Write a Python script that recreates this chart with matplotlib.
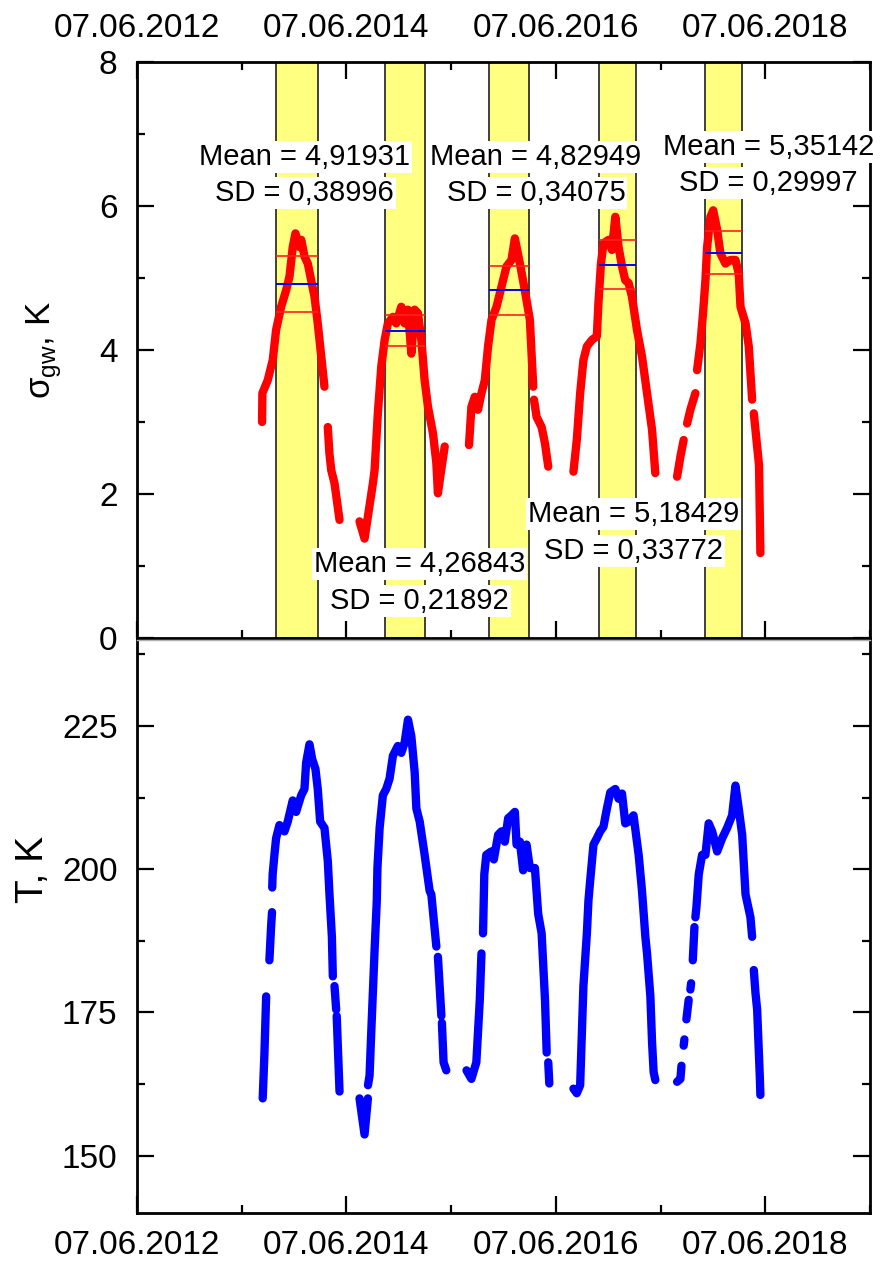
import matplotlib
matplotlib.use("Agg")
import matplotlib.pyplot as plt
import matplotlib.dates as mdates
from matplotlib.ticker import FixedLocator, MultipleLocator
import numpy as np
import pandas as pd

plt.rcParams['font.family'] = ['Liberation Sans', 'DejaVu Sans']

nan = np.nan

# sigma_gw (K), decimal year / value, nan = gap in record
sig_year = [2013.625, 2013.628, 2013.679, 2013.727, 2013.759, 2013.807, 2013.855, 2013.887, 2013.918,
            2013.944, 2013.982, 2013.999, 2014.030, 2014.062, 2014.094, 2014.126, 2014.157, 2014.190,
            2014.221, 2014.240, 2014.253, 2014.268, 2014.286, 2014.317, 2014.365, 2014.450,
            2014.556, 2014.604, 2014.636, 2014.684, 2014.700, 2014.731, 2014.764, 2014.796, 2014.827,
            2014.875, 2014.907, 2014.955, 2014.987, 2015.019, 2015.051, 2015.083, 2015.114, 2015.147,
            2015.178, 2015.210, 2015.258, 2015.290, 2015.305, 2015.338, 2015.370, 2015.480,
            2015.602, 2015.625, 2015.657, 2015.688, 2015.721, 2015.753, 2015.784, 2015.817, 2015.865,
            2015.912, 2015.960, 2016.008, 2016.040, 2016.088, 2016.135, 2016.183, 2016.215, 2016.218,
            2016.222, 2016.247, 2016.295, 2016.327, 2016.358, 2016.480,
            2016.598, 2016.630, 2016.662, 2016.693, 2016.726, 2016.774, 2016.821, 2016.836, 2016.860,
            2016.884, 2016.932, 2016.965, 2016.997, 2017.028, 2017.061, 2017.092, 2017.124, 2017.156,
            2017.204, 2017.252, 2017.300, 2017.348, 2017.379, 2017.480,
            2017.587, 2017.619, 2017.650, 2017.667, 2017.683, 2017.714, 2017.762, 2017.770, 2017.778,
            2017.810, 2017.835, 2017.858, 2017.874, 2017.906, 2017.932, 2017.970, 2018.001, 2018.049,
            2018.097, 2018.145, 2018.176, 2018.193, 2018.241, 2018.272, 2018.304, 2018.312, 2018.320,
            2018.352, 2018.370, 2018.383]
sig_val = [3.00, 3.40, 3.58, 3.86, 4.28, 4.60, 4.83, 5.02, 5.43,
           5.62, 5.43, 5.53, 5.30, 5.20, 4.97, 4.74, 4.37, 3.91,
           3.49, nan, 2.93, 2.57, 2.33, 2.15, 1.64, nan,
           1.62, 1.38, 1.69, 2.15, 2.33, 3.12, 3.77, 4.14, 4.37,
           4.46, 4.37, 4.60, 4.37, 4.56, 3.95, 4.56, 4.51, 4.14,
           3.58, 3.21, 2.84, 2.43, 2.01, 2.35, 2.66, nan,
           2.68, 3.21, 3.35, 3.17, 3.40, 3.58, 4.05, 4.42, 4.60,
           4.88, 5.16, 5.25, 5.55, 5.20, 4.83, 4.42, 3.49, nan,
           3.31, 3.07, 2.93, 2.70, 2.38, nan,
           2.31, 2.75, 3.40, 3.86, 4.05, 4.14, 4.19, 4.65, 5.20,
           5.48, 5.53, 5.39, 5.85, 5.43, 5.16, 4.97, 4.93, 4.74,
           4.28, 3.91, 3.40, 2.89, 2.29, nan,
           2.24, 2.52, 2.75, nan, 2.98, 3.17, 3.40, nan, 3.72,
           4.09, 4.51, 4.97, 5.43, 5.85, 5.94, 5.67, 5.34, 5.20,
           5.25, 5.25, 5.06, 4.60, 4.37, 4.05, 3.31, nan, 3.12,
           2.66, 2.40, 1.18]

# temperature (K)
t_year = [2013.631, 2013.647, 2013.664, 2013.668, 2013.673, 2013.684, 2013.695, 2013.711, 2013.720,
          2013.721, 2013.722, 2013.726, 2013.743, 2013.759, 2013.791, 2013.839, 2013.870, 2013.918,
          2013.950, 2013.999, 2014.030, 2014.046, 2014.078, 2014.104, 2014.135, 2014.157, 2014.180,
          2014.221, 2014.253, 2014.269, 2014.292, 2014.301, 2014.309, 2014.317, 2014.333, 2014.335,
          2014.338, 2014.365, 2014.450,
          2014.556, 2014.604, 2014.636, 2014.636, 2014.637, 2014.652, 2014.668, 2014.700, 2014.721,
          2014.727, 2014.748, 2014.779, 2014.811, 2014.843, 2014.875, 2014.922, 2014.955, 2014.987,
          2015.019, 2015.051, 2015.083, 2015.099, 2015.131, 2015.178, 2015.226, 2015.242, 2015.290,
          2015.297, 2015.305, 2015.338, 2015.340, 2015.343, 2015.359, 2015.385, 2015.480,
          2015.578, 2015.625, 2015.672, 2015.705, 2015.721, 2015.728, 2015.736, 2015.748, 2015.767,
          2015.815, 2015.839, 2015.880, 2015.912, 2015.944, 2015.976, 2016.008, 2016.040, 2016.056,
          2016.088, 2016.119, 2016.151, 2016.183, 2016.231, 2016.262, 2016.295, 2016.327, 2016.343,
          2016.350, 2016.358, 2016.368, 2016.480,
          2016.598, 2016.630, 2016.662, 2016.678, 2016.693, 2016.726, 2016.741, 2016.757, 2016.789,
          2016.821, 2016.853, 2016.884, 2016.917, 2016.949, 2016.997, 2017.028, 2017.061, 2017.092,
          2017.124, 2017.171, 2017.220, 2017.252, 2017.284, 2017.300, 2017.332, 2017.348, 2017.363,
          2017.379, 2017.480,
          2017.587, 2017.619, 2017.629, 2017.632, 2017.636, 2017.643, 2017.650, 2017.657, 2017.666,
          2017.676, 2017.698, 2017.706, 2017.714, 2017.721, 2017.729, 2017.737, 2017.753, 2017.757,
          2017.762, 2017.772, 2017.794, 2017.826, 2017.858, 2017.889, 2017.922, 2017.970, 2018.018,
          2018.065, 2018.113, 2018.145, 2018.176, 2018.209, 2018.241, 2018.288, 2018.304, 2018.312,
          2018.320, 2018.336, 2018.352, 2018.377, 2018.383]
t_val = [160.0, 167.5, 177.8, nan, 180.7, nan, 184.1, 189.9, 192.5,
         nan, 196.8, 199.1, 202.5, 205.4, 207.7, 206.6, 208.3, 212.0,
         210.0, 212.9, 214.0, 218.6, 221.8, 219.2, 217.5, 214.0, 208.3,
         207.2, 201.4, 195.6, 188.2, 181.3, nan, 179.6, 175.5, nan,
         174.4, 161.2, nan,
         160.0, 153.7, 160.0, nan, 162.3, 164.0, 171.5, 185.9, 194.5,
         200.2, 207.2, 212.9, 214.0, 215.8, 219.8, 221.5, 220.3, 222.1,
         226.1, 223.2, 216.9, 210.6, 208.3, 202.5, 196.2, 195.6, 186.5,
         nan, 184.7, 174.4, nan, 173.2, 166.3, 164.9, nan,
         164.9, 163.4, 166.3, 177.2, 185.3, nan, 188.8, 199.1, 202.5,
         203.1, 201.7, 206.0, 206.6, 204.8, 208.9, 209.4, 210.0, 204.3,
         204.8, 199.8, 204.3, 200.2, 200.2, 192.2, 188.8, 177.2, 168.0,
         nan, 166.3, 162.6, nan,
         161.7, 160.9, 162.3, 171.5, 179.6, 188.8, 194.5, 197.9, 204.3,
         205.4, 206.6, 207.4, 210.6, 213.4, 214.0, 212.3, 213.2, 208.0,
         208.3, 209.4, 202.5, 196.2, 188.2, 185.3, 177.8, 169.8, 164.6,
         163.2, nan,
         162.9, 163.4, 165.7, nan, 167.5, nan, 169.2, 170.3, nan,
         173.8, 177.2, nan, 179.0, 180.1, nan, 184.1, 189.9, nan,
         191.6, 193.4, 199.1, 202.5, 202.5, 208.0, 206.6, 203.1, 205.4,
         207.2, 209.4, 214.6, 210.6, 206.0, 195.6, 191.6, 188.2, nan,
         182.4, 178.4, 175.5, 164.0, 160.6]

# winter windows and their statistics
band_start = ["2013-10-05", "2014-10-21", "2015-10-19", "2016-11-03", "2017-11-09"]
band_end = ["2014-03-01", "2015-03-07", "2016-03-04", "2017-03-14", "2018-03-18"]
band_mean = [4.91931, 4.26843, 4.82949, 5.18429, 5.35142]
band_sd = [0.38996, 0.21892, 0.34075, 0.33772, 0.29997]
# label anchors (decimal year, y of "Mean" line, y of "SD" line)
label_year = [2014.03, 2015.131, 2016.241, 2017.169, 2018.461]
label_y_mean = [6.68, 1.03, 6.68, 1.72, 6.82]
label_y_sd = [6.18, 0.51, 6.18, 1.21, 6.32]

major_years = [2012, 2014, 2016, 2018]
minor_years = [2013, 2015, 2017, 2019]


def year_to_num(years):
    out = []
    for y in years:
        yr = int(y)
        a = mdates.date2num(pd.Timestamp(yr, 1, 1))
        b = mdates.date2num(pd.Timestamp(yr + 1, 1, 1))
        out.append(a + (y - yr) * (b - a))
    return np.array(out)


def fmt(v):
    return f"{v:.5f}".replace(".", ",")


W, H = 887, 1263
fig = plt.figure(figsize=(W / 100, H / 100), dpi=100)
left, right = 137 / W, 870 / W
ax1 = fig.add_axes([left, 1 - 638 / H, right - left, (638 - 62) / H])
ax2 = fig.add_axes([left, 1 - 1213 / H, right - left, (1213 - 640) / H])

x0 = mdates.date2num(pd.Timestamp(2012, 6, 7))
x1 = mdates.date2num(pd.Timestamp(2019, 6, 7))
major = [mdates.date2num(pd.Timestamp(y, 6, 7)) for y in major_years]
minor = [mdates.date2num(pd.Timestamp(y, 6, 7)) for y in minor_years]

for ax in (ax1, ax2):
    ax.set_xlim(x0, x1)
    ax.xaxis.set_major_locator(FixedLocator(major))
    ax.xaxis.set_minor_locator(FixedLocator(minor))
    ax.xaxis.set_major_formatter(mdates.DateFormatter("%d.%m.%Y"))
    ax.tick_params(which="both", direction="in", width=1.6, labelsize=24, right=True)
    ax.tick_params(which="major", length=12)
    ax.tick_params(which="minor", length=6)
    for s in ax.spines.values():
        s.set_linewidth(2)

# top panel
for s, e, m, sd in zip(band_start, band_end, band_mean, band_sd):
    a = mdates.date2num(pd.Timestamp(s))
    b = mdates.date2num(pd.Timestamp(e))
    ax1.axvspan(a, b, facecolor="#ffff80", edgecolor="#303030", linewidth=1.3, zorder=1)
    ax1.hlines([m + sd, m - sd], a, b, colors="#ff2020", linewidth=1.2, zorder=4)
    ax1.hlines(m, a, b, colors="#0000ff", linewidth=1.4, zorder=4)

ax1.plot(year_to_num(sig_year), sig_val, color="#ff0000", linewidth=6,
         solid_capstyle="round", solid_joinstyle="round", zorder=3)

for xy, ym, ys, m, sd in zip(label_year, label_y_mean, label_y_sd, band_mean, band_sd):
    xn = year_to_num([xy])[0]
    box = dict(facecolor="white", edgecolor="none", pad=1.5)
    ax1.text(xn, ym, f"Mean = {fmt(m)}", ha="center", va="center", fontsize=21, bbox=box, zorder=6)
    ax1.text(xn, ys, f"SD = {fmt(sd)}", ha="center", va="center", fontsize=21, bbox=box, zorder=6)

ax1.set_ylim(0, 8)
ax1.yaxis.set_major_locator(MultipleLocator(2))
ax1.yaxis.set_minor_locator(MultipleLocator(1))
ax1.tick_params(axis="x", which="both", top=True, bottom=True, labeltop=True, labelbottom=False, pad=13)
ax1.tick_params(axis="y", pad=14)
ax1.set_ylabel(r"σ$_{\mathregular{gw}}$, K", fontsize=25)
ax1.yaxis.set_label_coords(-0.10, 0.5)

# bottom panel
ax2.plot(year_to_num(t_year), t_val, color="#0000ff", linewidth=6,
         solid_capstyle="round", solid_joinstyle="round", zorder=3)
ax2.set_ylim(140, 240)
ax2.yaxis.set_major_locator(FixedLocator([150, 175, 200, 225]))
ax2.yaxis.set_minor_locator(FixedLocator([162.5, 187.5, 212.5, 237.5]))
ax2.tick_params(axis="x", which="both", top=False, pad=12)
ax2.tick_params(axis="y", pad=14)
ax2.spines["top"].set_color("#b0b0b0")
ax2.spines["top"].set_linewidth(1)
ax2.set_ylabel("T, K", fontsize=28)
ax2.yaxis.set_label_coords(-0.118, 0.6)

fig.savefig("out.png", dpi=100)
